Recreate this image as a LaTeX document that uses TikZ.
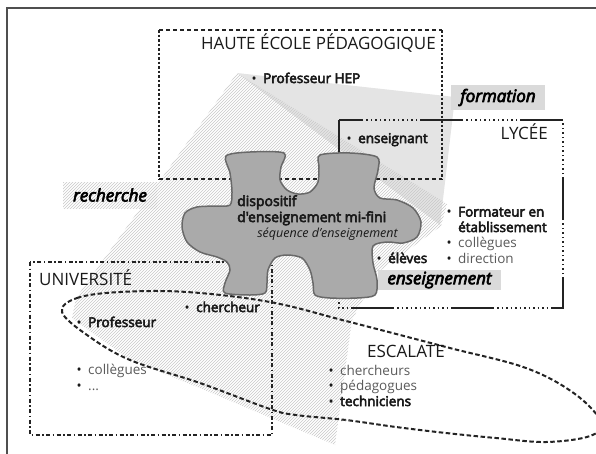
\documentclass[tikz,border=0pt]{standalone}
\usepackage{fontspec}
\setmainfont{Open Sans}
\newfontfamily\medfont[FakeBold=4]{Open Sans}
\usetikzlibrary{patterns}
\definecolor{linegray}{RGB}{35,35,35}
\definecolor{txtdark}{RGB}{25,25,25}
\definecolor{txtgray}{RGB}{90,90,90}
\definecolor{formgray}{RGB}{228,228,228}
\definecolor{labelgray}{RGB}{218,218,218}
\definecolor{piecegray}{RGB}{170,170,170}
\definecolor{pieceedge}{RGB}{105,105,105}
\definecolor{hatchgray}{RGB}{200,200,200}
\newcommand{\bigsize}{\fontsize{17}{20}\selectfont}
\newcommand{\listsize}{\fontsize{13.5}{15.5}\selectfont}
\newcommand{\itm}[1]{\makebox[11.5pt][l]{\color{txtdark}\textbullet}#1}
\newcommand{\noitm}[1]{\hspace*{11.5pt}#1}
\newcommand{\lead}[1]{{\medfont\color{txtdark}#1}}
\tikzset{
    institution/.style={font=\bigsize, text=txtdark, inner sep=0pt},
    member/.style={font=\listsize, text=txtgray, anchor=base west, inner sep=0pt},
    activity/.style={font=\fontsize{17}{20}\selectfont\medfont\itshape, text=black, inner sep=0pt},
    piecetext/.style={font=\fontsize{14}{16}\selectfont\medfont, text=txtdark, inner sep=0pt},
    frameline/.style={draw=linegray!80, line width=1.2pt},
    hepdash/.style={draw=linegray, line width=1.7pt, dash pattern=on 4pt off 3pt},
    hepdot/.style={draw=linegray, line width=1.7pt, dash pattern=on 2.5pt off 2pt},
    lyceeline/.style={draw=linegray, line width=2pt,
        dash pattern=on 43pt off 3pt on 1.5pt off 3pt on 1.5pt off 3pt on 1.5pt off 3pt on 1.5pt
            off 3pt on 1.5pt off 3pt on 1.5pt off 3pt on 1.5pt off 3pt on 1.5pt off 3pt on 1.5pt
            off 3pt on 1.5pt off 3pt on 1.5pt off 3pt on 1.5pt off 3pt},
    univline/.style={draw=linegray, line width=1.8pt, dash pattern=on 4pt off 2.5pt on 1.5pt off 2.5pt},
    escline/.style={draw=linegray, line width=2pt, dash pattern=on 4.5pt off 2.5pt},
    hatch/.style={pattern=north east lines, pattern color=hatchgray},
    piece/.style={fill=piecegray, draw=pieceedge, line width=1.5pt}
}
\begin{document}
\begin{tikzpicture}[x=1pt, y=-1pt]
\useasboundingbox (0,0) rectangle (596,453);
% frame of the figure
\draw[frameline] (7,460) -- (7,8) -- (600,8);

% formation / recherche areas
\fill[formgray] (237,73) -- (455,97) -- (440,225) -- cycle;
\fill[hatch] (237,73) -- (447,204) -- (441,226) -- (378,272) -- (352,320) -- (335,445)
    -- (200,388) -- (130,360) -- (72,318) -- (76,298) -- cycle;

\node[activity, fill=labelgray, minimum width=94pt, minimum height=25pt] (formation) at (498,97.5) {formation};
\node[activity, hatch, minimum width=94pt, minimum height=26pt] (recherche) at (110,195) {recherche};
\node[activity, fill=labelgray, minimum width=123pt, minimum height=20pt] (enseignement) at (439.5,280) {enseignement};

% institutions
\draw[hepdash] (159,30) -- (442,30) (159,179) -- (442,179);
\draw[hepdot] (159,30) -- (159,179) (442,30) -- (442,179);
\draw[lyceeline] (339,120) rectangle (563,308);
\draw[univline] (30,262) rectangle (272,435);
\draw[escline] plot[smooth cycle, tension=0.6] coordinates {
    (62,312) (77,298) (120,292) (187,292) (270,302) (346,321) (446,347) (526,368)
    (575,394) (601,422) (590,436) (546,442) (496,438) (446,433) (396,427) (346,420)
    (296,415) (270,409) (200,383) (130,360) (87,335)};

% puzzle piece
\filldraw[piece] plot[smooth cycle, tension=0.5] coordinates {
    (226,156) (250,152) (284,153) (281,167) (280,180) (287,190) (298,194) (310,192)
    (318,182) (319,167) (320,155) (350,153) (377,157) (378,170) (374,188) (380,198)
    (397,200) (413,208) (421,222) (417,237) (403,243) (387,242) (373,246) (373,263)
    (377,280) (375,295) (357,298) (330,298) (315,295) (313,283) (310,270) (302,258)
    (287,255) (275,258) (268,270) (267,283) (265,293) (250,295) (225,293) (225,283)
    (230,270) (227,262) (217,257) (200,252) (187,242) (182,227) (185,213) (197,207)
    (217,206) (230,205) (232,192) (230,173)};
\node[piecetext, anchor=base west] (dispo) at (237,206) {dispositif};
\node[piecetext, anchor=base west] (dispo2) at (237,222) {d'enseignement mi-fini};
\node[piecetext, anchor=base east, font=\fontsize{12.5}{15}\selectfont\itshape] (sequence) at (398,237) {séquence d'enseignement};

% names
\node[institution, anchor=base east] (hep) at (436,49) {HAUTE ÉCOLE PÉDAGOGIQUE};
\node[institution, anchor=base east] (lycee) at (548,139) {LYCÉE};
\node[institution, anchor=base west] (univ) at (39,285) {UNIVERSITÉ};
\node[institution, anchor=base west] (escalate) at (367,357) {ESCALATE};

% members
\node[member] (profhep) at (251.5,83) {\itm{\lead{Professeur HEP}}};
\node[member] (teacher) at (346.5,143) {\itm{\lead{enseignant}}};
\node[member] (trainer) at (446.5,216.5) {\itm{\lead{Formateur en}}};
\node[member] (trainer2) at (446.5,232) {\noitm{\lead{établissement}}};
\node[member] (colly) at (446.5,247.5) {\itm{collègues}};
\node[member] (direction) at (446.5,263) {\itm{direction}};
\node[member] (pupils) at (376.5,263) {\itm{\lead{élèves}}};
\node[member] (researcher) at (184.5,312) {\itm{\lead{chercheur}}};
\node[member] (profuni) at (76.5,327) {\itm{\lead{Professeur}}};
\node[member] (collu) at (76.5,374) {\itm{collègues}};
\node[member] (etcu) at (76.5,390) {\itm{...}};
\node[member] (researchers) at (328.5,375) {\itm{chercheurs}};
\node[member] (pedagogues) at (328.5,390.5) {\itm{pédagogues}};
\node[member] (technicians) at (328.5,406) {\itm{\lead{techniciens}}};
\node[member] (etce) at (328.5,421.5) {\noitm{...}};
\end{tikzpicture}
\end{document}
